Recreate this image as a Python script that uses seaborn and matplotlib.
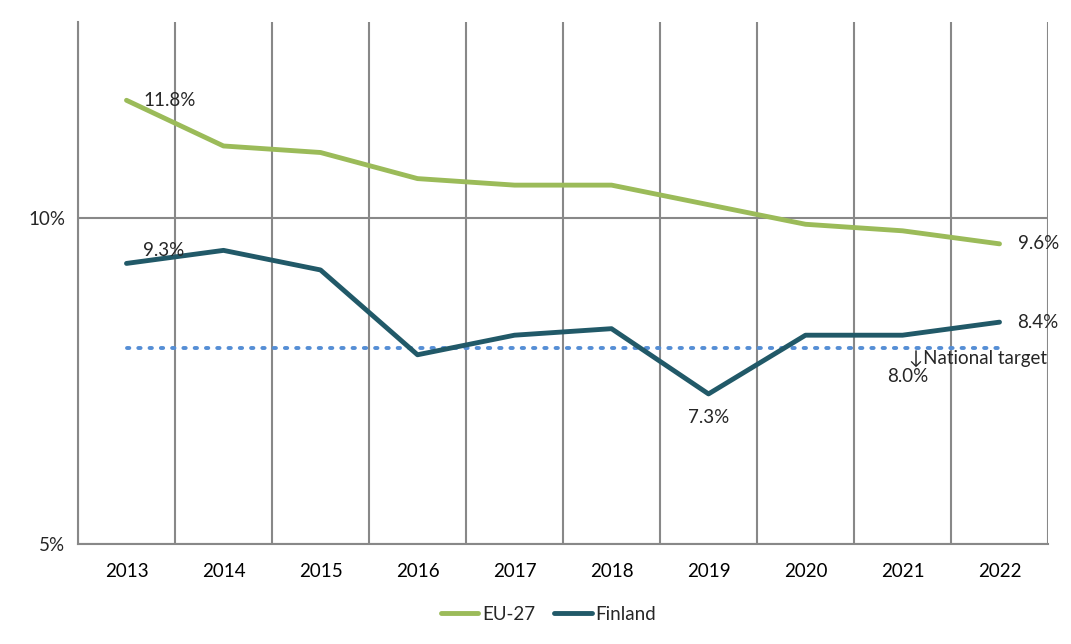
import matplotlib
matplotlib.use("Agg")
import matplotlib.pyplot as plt
import seaborn as sns
import pandas as pd
import numpy as np
from matplotlib.ticker import FixedLocator, FuncFormatter

years = ["2013", "2014", "2015", "2016", "2017", "2018", "2019", "2020", "2021", "2022"]
eu27 = [11.8, 11.1, 11.0, 10.6, 10.5, 10.5, 10.2, 9.9, 9.8, 9.6]
finland = [9.3, 9.5, 9.2, 7.9, 8.2, 8.3, 7.3, 8.2, 8.2, 8.4]
target = [8.0] * len(years)
series_names = ["EU-27", "Finland"]
colors = {"EU-27": "#9BBB59", "Finland": "#215968"}

sns.set_theme(style="white")
plt.rcParams['font.family'] = ['Lato', 'DejaVu Sans']

pos = np.arange(len(years))
df = pd.DataFrame({
    "pos": np.concatenate([pos, pos]),
    "value": eu27 + finland,
    "series": ["EU-27"] * len(years) + ["Finland"] * len(years),
})

fig = plt.figure(figsize=(10.71, 6.44), dpi=100)
ax = fig.add_axes([78/1071, 1-544/644, (1048-78)/1071, (544-22)/644])

# target line
ax.plot(pos, target, linestyle=(0, (0.6, 2.3)), color="#558ED5", lw=2.8,
        dash_capstyle="round", zorder=2)

sns.lineplot(data=df, x="pos", y="value", hue="series", hue_order=series_names,
             palette=colors, linewidth=3.5, ax=ax, legend=True, zorder=3)

ax.set_xlim(-0.5, len(years) - 0.5)
ax.set_ylim(5, 13)
ax.set_xlabel("")
ax.set_ylabel("")

fs = 13.5

# x ticks
ax.set_xticks(pos)
ax.set_xticklabels(years, fontsize=fs, color="#000000")
ax.xaxis.set_minor_locator(FixedLocator(np.arange(-0.5, len(years), 1.0)))
ax.tick_params(axis="x", which="major", length=0, pad=14)
ax.tick_params(axis="x", which="minor", length=5, width=1.5, color="#888888", direction="out")
ax.grid(axis="x", which="minor", color="#888888", linewidth=1.5)
ax.grid(axis="x", which="major", visible=False)

# y ticks
ax.set_yticks([5, 10])
ax.yaxis.set_major_formatter(FuncFormatter(lambda v, p: f"{v:.0f}%"))
ax.tick_params(axis="y", which="major", length=5, width=1.5, color="#888888",
               direction="out", labelsize=fs, pad=4)
ax.grid(axis="y", which="major", color="#888888", linewidth=1.5)
ax.set_axisbelow(True)

for s in ["top", "right"]:
    ax.spines[s].set_visible(False)
for s in ["left", "bottom"]:
    ax.spines[s].set_color("#888888")
    ax.spines[s].set_linewidth(1.5)

# data labels
ax.annotate(f"{eu27[0]:.1f}%", (pos[0], eu27[0]), xytext=(12, 0), textcoords="offset points",
            ha="left", va="center", fontsize=fs)
ax.annotate(f"{finland[0]:.1f}%", (pos[0], finland[0]), xytext=(12, 9), textcoords="offset points",
            ha="left", va="center", fontsize=fs)
ax.annotate(f"{eu27[-1]:.1f}%", (pos[-1], eu27[-1]), xytext=(13, 0), textcoords="offset points",
            ha="left", va="center", fontsize=fs)
ax.annotate(f"{finland[-1]:.1f}%", (pos[-1], finland[-1]), xytext=(13, 0), textcoords="offset points",
            ha="left", va="center", fontsize=fs)
ax.annotate(f"{finland[6]:.1f}%", (pos[6], finland[6]), xytext=(0, -17), textcoords="offset points",
            ha="center", va="center", fontsize=fs)
ax.annotate(f"{target[-1]:.1f}%", (pos[-2], target[-1]), xytext=(4, -20), textcoords="offset points",
            ha="center", va="center", fontsize=fs)
ax.annotate("↓National target", (pos[-2], target[-1]), xytext=(5, -7), textcoords="offset points",
            ha="left", va="center", fontsize=fs, family=['Lato', 'DejaVu Sans'])

# legend
handles, labels = ax.get_legend_handles_labels()
ax.legend(handles, labels, loc="center", bbox_to_anchor=(0.485, -0.135), ncol=2, frameon=False,
          fontsize=fs, handlelength=2.0, handletextpad=0.2, columnspacing=1.0)

fig.savefig("out.png", dpi=100)
